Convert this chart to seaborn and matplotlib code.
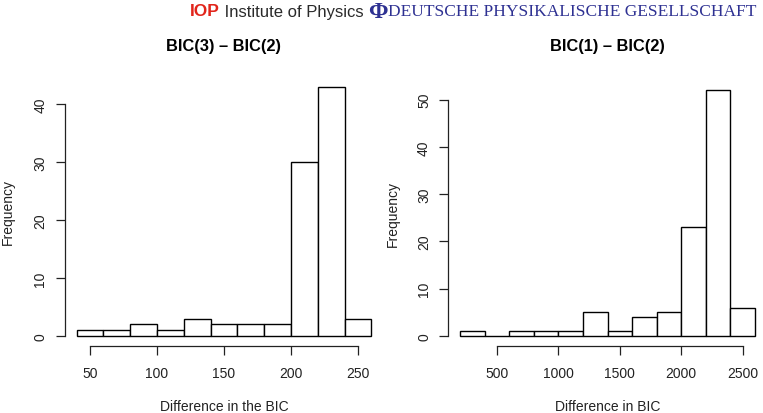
import numpy as np
import pandas as pd
import matplotlib
matplotlib.use("Agg")
import matplotlib.pyplot as plt
import seaborn as sns

# istogramma sinistro: BIC(3) - BIC(2)
left_edges = [40, 60, 80, 100, 120, 140, 160, 180, 200, 220, 240, 260]
left_counts = [1, 1, 2, 1, 3, 2, 2, 2, 30, 43, 3]
left_xticks = [50, 100, 150, 200, 250]
left_yticks = [0, 10, 20, 30, 40]

# istogramma destro: BIC(1) - BIC(2)
right_edges = [200, 400, 600, 800, 1000, 1200, 1400, 1600, 1800, 2000, 2200, 2400, 2600]
right_counts = [1, 0, 1, 1, 1, 5, 1, 4, 5, 23, 52, 6]
right_xticks = [500, 1000, 1500, 2000, 2500]
right_yticks = [0, 10, 20, 30, 40, 50]

sns.set_theme(style="white")
plt.rcParams["font.family"] = ["Liberation Sans", "DejaVu Sans"]
plt.rcParams["text.color"] = "black"
plt.rcParams["axes.edgecolor"] = "#222222"

fig = plt.figure(figsize=(7.63, 4.14), dpi=100)
W, H = 763, 414


def px_axes(x0, x1, ytop, ybot):
    # posizione dell'asse in pixel -> frazioni della figura
    return fig.add_axes([x0 / W, 1 - ybot / H, (x1 - x0) / W, (ybot - ytop) / H])


def r_hist(ax, edges, counts, xticks, yticks, title, xlabel, title_y, xlab_y, ylab_x):
    e = np.array(edges, dtype=float)
    centers = (e[:-1] + e[1:]) / 2
    df = pd.DataFrame({"x": centers, "n": counts})
    sns.histplot(data=df, x="x", weights="n", bins=list(edges), ax=ax,
                 color="white", edgecolor="black", linewidth=1.0, alpha=1)
    # limiti alla maniera di R (estensione del 4%)
    span = e[-1] - e[0]
    ax.set_xlim(e[0] - 0.04 * span, e[-1] + 0.04 * span)
    top = max(counts)
    ax.set_ylim(-0.04 * top, 1.04 * top)
    for s in ["top", "right"]:
        ax.spines[s].set_visible(False)
    ax.spines["left"].set_bounds(yticks[0], yticks[-1])
    ax.spines["bottom"].set_bounds(xticks[0], xticks[-1])
    for s in ["left", "bottom"]:
        ax.spines[s].set_linewidth(0.9)
    ax.set_xticks(xticks)
    ax.set_yticks(yticks)
    ax.tick_params(axis="both", direction="out", length=6.5, width=0.9,
                   bottom=True, left=True,
                   labelsize=10, colors="#222222", labelcolor="#222222")
    ax.tick_params(axis="x", pad=8)
    ax.tick_params(axis="y", pad=6, labelrotation=90)
    for lab in ax.get_yticklabels():
        lab.set_va("center")
    ax.set_xlabel(xlabel, fontsize=10, color="#222222")
    ax.set_ylabel("Frequency", fontsize=10, color="#222222")
    ax.xaxis.label.set_va("center")
    ax.yaxis.label.set_va("center")
    ax.xaxis.set_label_coords(0.5, xlab_y)
    ax.yaxis.set_label_coords(ylab_x, 0.5)
    ax.text(0.5, title_y, title, transform=ax.transAxes, ha="center", va="center",
            fontsize=11.8, fontweight="bold")


ax1 = px_axes(64.8, 383.2, 77.6, 347.0)
r_hist(ax1, left_edges, left_counts, left_xticks, left_yticks,
       "BIC(3) \u2013 BIC(2)", "Difference in the BIC",
       title_y=(347 - 47) / (347 - 77.6), xlab_y=(347 - 407) / (347 - 77.6),
       ylab_x=(7.5 - 64.8) / 318.4)

ax2 = px_axes(448.4, 766.8, 81.4, 346.8)
r_hist(ax2, right_edges, right_counts, right_xticks, right_yticks,
       "BIC(1) \u2013 BIC(2)", "Difference in BIC",
       title_y=(346.8 - 47) / (346.8 - 81.4), xlab_y=(346.8 - 407) / (346.8 - 81.4),
       ylab_x=(393 - 448.4) / 318.4)

# intestazione con i loghi testuali
fig.canvas.draw()
renderer = fig.canvas.get_renderer()
x = 190 / W
yh = 1 - 12 / H
parts = [
    ("IOP", dict(color="#e1251b", fontweight="bold", fontsize=12.5,
                 family=["Liberation Sans"])),
    (" Institute of Physics ", dict(color="#2a2a2a", fontsize=12,
                                    family=["Liberation Sans"])),
    ("\u03a6", dict(color="#2e3192", fontweight="bold", fontsize=17,
                    family=["Liberation Serif", "DejaVu Serif"])),
    ("DEUTSCHE PHYSIKALISCHE GESELLSCHAFT", dict(color="#2e3192", fontsize=12.5,
                                                  family=["Liberation Serif", "DejaVu Serif"])),
]
for txt, kw in parts:
    t = fig.text(x, yh, txt, ha="left", va="center", **kw)
    bb = t.get_window_extent(renderer)
    x = bb.x1 / W

fig.savefig("out.png", dpi=100)
